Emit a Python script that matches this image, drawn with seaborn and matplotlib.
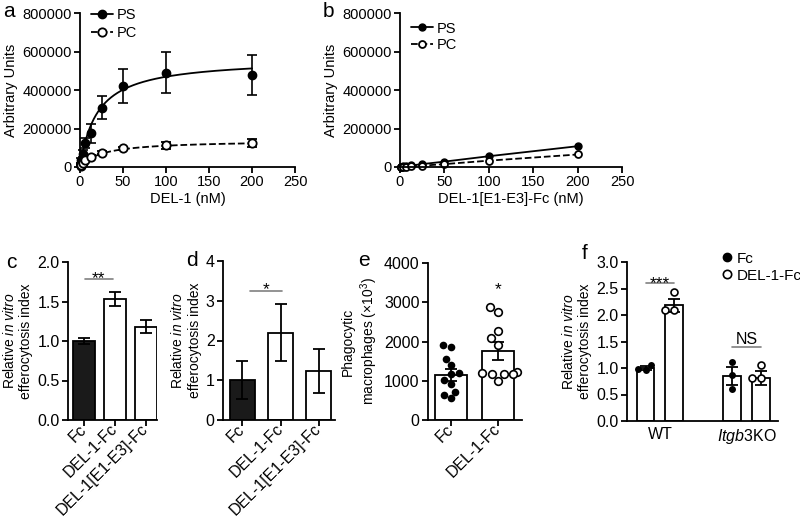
import numpy as np
import pandas as pd
import seaborn as sns
import matplotlib.pyplot as plt
from matplotlib.lines import Line2D
from matplotlib.ticker import FormatStrFormatter

# ---- values ----
conc = [0.78, 1.56, 3.125, 6.25, 12.5, 25, 50, 100, 200]

ps_a = [15000, 35000, 70000, 126000, 175000, 308000, 421000, 490000, 478000]
ps_a_err = [8000, 12000, 20000, 25000, 48000, 60000, 86000, 108000, 104000]
pc_a = [5000, 10000, 20000, 36000, 54000, 74000, 97000, 114000, 123000]
pc_a_err = [3000, 4000, 6000, 8000, 8000, 8000, 8000, 18000, 20000]
# one-site binding fits (Bmax, Kd) shown as curves in a
ps_fit = (563700, 20.2)
pc_fit = (138600, 25.3)

ps_b = [1000, 2000, 3000, 5000, 8000, 15000, 28000, 56000, 108000]
pc_b = [500, 1000, 1500, 2500, 4000, 7000, 15000, 33000, 65000]

c_labels = ["Fc", "DEL-1-Fc", "DEL-1[E1-E3]-Fc"]
c_mean = [1.0, 1.53, 1.18]
c_sem = [0.04, 0.09, 0.08]

d_labels = ["Fc", "DEL-1-Fc", "DEL-1[E1-E3]-Fc"]
d_mean = [1.0, 2.2, 1.23]
d_sem = [0.48, 0.72, 0.55]

e_labels = ["Fc", "DEL-1-Fc"]
e_mean = [1150, 1770]
e_sem = [150, 230]
e_fc = [1870, 1900, 1550, 1405, 1180, 1190, 1010, 925, 715, 630, 550]
e_del = [2880, 2740, 2270, 2080, 1910, 1220, 1200, 1180, 1170, 1180, 985]

f_groups = ["WT", "$\\it{Itgb3}$KO"]
f_fc_mean = [1.0, 0.85]
f_fc_sem = [0.03, 0.17]
f_del_mean = [2.18, 0.81]
f_del_sem = [0.12, 0.13]
f_fc_pts = [[1.06, 0.97, 0.98], [1.11, 0.87, 0.60]]
f_del_pts = [[2.43, 2.10, 2.10], [1.05, 0.81, 0.81]]

sns.set_theme(style="ticks", rc={"axes.edgecolor": "black", "xtick.color": "black",
                                 "ytick.color": "black", "text.color": "black",
                                 "axes.labelcolor": "black"})
plt.rcParams['font.family'] = ['Liberation Sans', 'DejaVu Sans']
plt.rcParams['mathtext.fontset'] = 'custom'
plt.rcParams['mathtext.rm'] = 'Liberation Sans'
plt.rcParams['mathtext.it'] = 'Liberation Sans:italic'

W, H = 800, 518
fig = plt.figure(figsize=(W / 100, H / 100), dpi=100)


def box(l, t, r, b):
    return [l / W, 1 - b / H, (r - l) / W, (b - t) / H]


def style(ax, fs):
    sns.despine(ax=ax)
    for s in ["left", "bottom"]:
        ax.spines[s].set_linewidth(1.3)
    ax.tick_params(width=1.3, length=4, labelsize=fs, pad=2)


ylab2 = "Relative $\\it{in\\ vitro}$\nefferocytosis index"

# ---- a ----
ax = fig.add_axes(box(80, 13, 295, 167))
ax.errorbar(conc, ps_a, yerr=ps_a_err, fmt='o', color='black', ms=6, capsize=3.5,
            elinewidth=1.2, capthick=1.2, clip_on=False, zorder=3)
ax.errorbar(conc, pc_a, yerr=pc_a_err, fmt='o', color='black', mfc='white', mec='black',
            mew=1.3, ms=6, capsize=3.5, elinewidth=1.2, capthick=1.2, clip_on=False, zorder=3)
xs = np.linspace(0, 200, 400)
sns.lineplot(x=xs, y=ps_fit[0] * xs / (ps_fit[1] + xs), color='black', lw=1.3, ax=ax)
sns.lineplot(x=xs, y=pc_fit[0] * xs / (pc_fit[1] + xs), color='black', lw=1.3, ls='--', ax=ax)
ax.set_xlim(0, 250)
ax.set_ylim(0, 800000)
ax.set_xticks(range(0, 251, 50))
ax.set_yticks(range(0, 800001, 200000))
ax.yaxis.set_major_formatter(FormatStrFormatter('%d'))
ax.set_xlabel("DEL-1 (nM)", fontsize=10.5, labelpad=2)
ax.set_ylabel("Arbitrary Units", fontsize=10.5, labelpad=3)
style(ax, 10.5)
h_ps = Line2D([], [], color='black', marker='o', ms=6, lw=1.3)
h_pc = Line2D([], [], color='black', marker='o', mfc='white', mew=1.3, ms=6, lw=1.3, ls='--')
ax.legend([h_ps, h_pc], ["PS", "PC"], loc='upper left', bbox_to_anchor=(-0.01, 1.12),
          frameon=False, fontsize=10.5, handlelength=1.5, handletextpad=0.3, labelspacing=0.3)

# ---- b ----
ax = fig.add_axes(box(400, 13, 622, 167))
sns.lineplot(x=conc, y=ps_b, color='black', lw=1.3, marker='o', ms=5, mec='black', mew=1, ax=ax)
sns.lineplot(x=conc, y=pc_b, color='black', lw=1.3, ls='--', marker='o', ms=5,
             mfc='white', mec='black', mew=1.3, ax=ax)
ax.set_xlim(0, 250)
ax.set_ylim(0, 800000)
ax.set_xticks(range(0, 251, 50))
ax.set_yticks(range(0, 800001, 200000))
ax.yaxis.set_major_formatter(FormatStrFormatter('%d'))
ax.set_xlabel("DEL-1[E1-E3]-Fc (nM)", fontsize=10.5, labelpad=2)
ax.set_ylabel("Arbitrary Units", fontsize=10.5, labelpad=3)
style(ax, 10.5)
h_ps = Line2D([], [], color='black', marker='o', ms=5, lw=1.3)
h_pc = Line2D([], [], color='black', marker='o', mfc='white', mew=1.3, ms=5, lw=1.3, ls='--')
ax.legend([h_ps, h_pc], ["PS", "PC"], loc='upper left', bbox_to_anchor=(-0.01, 1.03),
          frameon=False, fontsize=10.5, handlelength=1.5, handletextpad=0.3, labelspacing=0.15)
for c in ax.lines:
    c.set_clip_on(False)


def bars(ax, labels, means, sems, colors, width):
    df = pd.DataFrame({"cond": labels, "val": means})
    sns.barplot(data=df, x="cond", y="val", hue="cond", palette=dict(zip(labels, colors)),
                edgecolor='black', linewidth=1.3, width=width, errorbar=None, legend=False, ax=ax)
    ax.errorbar(range(len(labels)), means, yerr=sems, fmt='none', ecolor='black',
                elinewidth=1.3, capsize=4.5, capthick=1.3, zorder=3)
    ax.set_xticks(range(len(labels)))
    ax.set_xticklabels(labels, rotation=45, ha='right', va='center', rotation_mode='anchor',
                       fontsize=9.8)
    ax.set_xlabel("")


def sig(ax, x0, x1, y, text, ty, fs=12.5):
    ax.plot([x0, x1], [y, y], color='#808080', lw=1.2)
    ax.text((x0 + x1) / 2, ty, text, ha='center', va='baseline', fontsize=fs)


# ---- c ----
ax = fig.add_axes(box(68, 262, 157, 420))
bars(ax, c_labels, c_mean, c_sem, ['#1a1a1a', 'white', 'white'], 0.71)
ax.set_xlim(-0.52, 2.36)
ax.set_ylim(0, 2)
ax.set_yticks(np.arange(0, 2.01, 0.5))
ax.yaxis.set_major_formatter(FormatStrFormatter('%.1f'))
ax.set_ylabel(ylab2, fontsize=10, labelpad=3)
style(ax, 11.5)
ax.tick_params(axis='x', pad=1)
sig(ax, 0.03, 0.93, 1.78, "**", 1.73)

# ---- d ----
ax = fig.add_axes(box(223, 261, 335, 420))
bars(ax, d_labels, d_mean, d_sem, ['#1a1a1a', 'white', 'white'], 0.65)
ax.set_xlim(-0.51, 2.43)
ax.set_ylim(0, 4)
ax.set_yticks(range(0, 5))
ax.set_ylabel(ylab2, fontsize=10, labelpad=3)
style(ax, 11.5)
ax.tick_params(axis='x', pad=1)
sig(ax, 0.2, 1.05, 3.25, "*", 3.16)

# ---- e ----
ax = fig.add_axes(box(428, 263, 522, 420))
bars(ax, e_labels, e_mean, e_sem, ['white', 'white'], 0.68)
df_fc = pd.DataFrame({"cond": "Fc", "val": e_fc})
df_del = pd.DataFrame({"cond": "DEL-1-Fc", "val": e_del})
sns.swarmplot(data=df_fc, x="cond", y="val", order=e_labels, color='black', size=5.5, ax=ax, zorder=4)
sns.swarmplot(data=df_del, x="cond", y="val", order=e_labels, color='white', edgecolor='black',
              linewidth=1.2, size=5.5, ax=ax, zorder=4)
ax.set_xlim(-0.49, 1.51)
ax.set_ylim(0, 4000)
ax.set_yticks(range(0, 4001, 1000))
ax.set_xlabel("")
ax.set_ylabel("Phagocytic\nmacrophages (\u00d710$^3$)", fontsize=10, labelpad=3)
style(ax, 11.5)
ax.tick_params(axis='x', pad=1)
ax.text(1, 3200, "*", ha='center', va='baseline', fontsize=12.5)

# ---- f ----
ax = fig.add_axes(box(627, 262, 778, 421))
off = 1 / 6
f_bars = pd.DataFrame({
    "pos": [g - off for g in range(2)] + [g + off for g in range(2)],
    "val": f_fc_mean + f_del_mean,
    "sem": f_fc_sem + f_del_sem,
})
sns.barplot(data=f_bars, x="pos", y="val", native_scale=True, width=0.62, color='white',
            edgecolor='black', linewidth=1.3, errorbar=None, ax=ax)
ax.errorbar(f_bars["pos"], f_bars["val"], yerr=f_bars["sem"], fmt='none', ecolor='black',
            elinewidth=1.3, capsize=4, capthick=1.3, zorder=3)
pf = pd.DataFrame([(g - off, v) for g in range(2) for v in f_fc_pts[g]], columns=["pos", "val"])
pd_ = pd.DataFrame([(g + off, v) for g in range(2) for v in f_del_pts[g]], columns=["pos", "val"])
sns.swarmplot(data=pf, x="pos", y="val", native_scale=True, color='black', size=5, ax=ax, zorder=4)
sns.swarmplot(data=pd_, x="pos", y="val", native_scale=True, color='white', edgecolor='black',
              linewidth=1.2, size=5, ax=ax, zorder=4)
ax.set_xlim(-0.38, 1.36)
ax.set_ylim(0, 3)
ax.set_yticks(np.arange(0, 3.01, 0.5))
ax.yaxis.set_major_formatter(FormatStrFormatter('%.1f'))
ax.set_xticks([0, 1])
ax.set_xticklabels(f_groups)
ax.set_xlabel("")
ax.set_ylabel(ylab2, fontsize=10, labelpad=3)
style(ax, 11.5)
ax.tick_params(axis='x', length=0, pad=4)
sig(ax, -off, off, 2.6, "***", 2.51)
sig(ax, 1 - off, 1 + off, 1.4, "NS", 1.46, fs=11.5)
hf = Line2D([], [], ls='none', marker='o', color='black', ms=6)
hd = Line2D([], [], ls='none', marker='o', mfc='white', mec='black', mew=1.2, ms=6)
fig.legend([hf, hd], ["Fc", "DEL-1-Fc"], loc='upper left', bbox_to_anchor=(712 / W, 1 - 241 / H),
           frameon=False, fontsize=11, handlelength=0.6, handletextpad=0.3, labelspacing=0.2,
           borderpad=0.2)

# ---- panel letters ----
for letter, x, y in [("a", 3, 17), ("b", 323, 17), ("c", 6, 268), ("d", 186, 266),
                     ("e", 358, 266), ("f", 582, 259)]:
    fig.text(x / W, 1 - y / H, letter, fontsize=15, va='baseline')

fig.savefig("out.png", dpi=100)
